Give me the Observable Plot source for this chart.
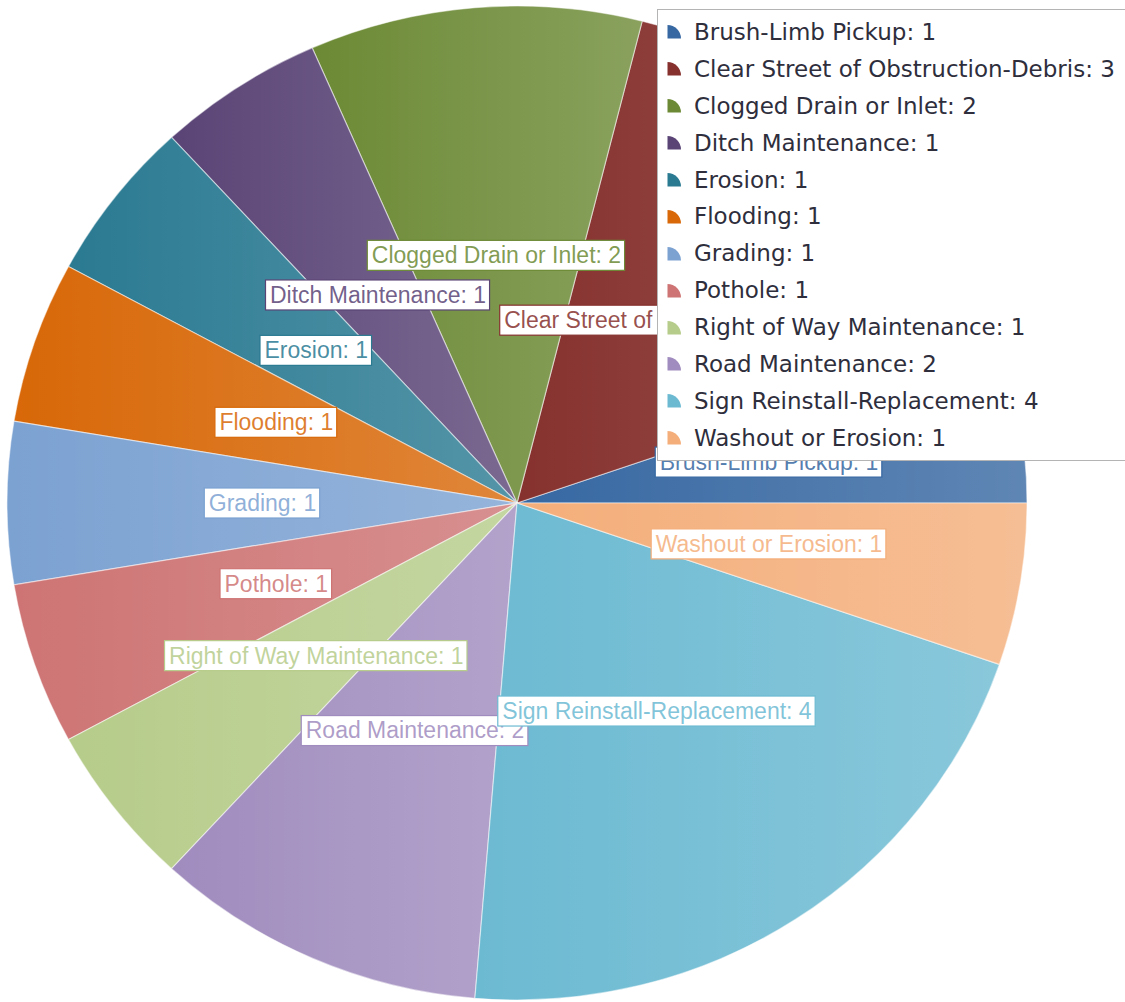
<!DOCTYPE html>
<html>
<head>
<meta charset="utf-8">
<script src="https://cdn.jsdelivr.net/npm/d3@7"></script>
<script src="https://cdn.jsdelivr.net/npm/@observablehq/plot@0.6"></script>
<style>
html, body { margin: 0; padding: 0; background: #fff; overflow: hidden; }
#wrap { position: relative; width: 1125px; height: 1002px; overflow: hidden; }
#chart svg { display: block; }
#legend {
  position: absolute; left: 657px; top: 9px; width: 500px; height: 452px;
  background: #fff; border: 1px solid #b4b4b4; box-sizing: border-box;
  padding-top: 3.5px; font-family: "DejaVu Sans"; font-size: 23px; color: #2e2e3c;
}
.item { height: 36.9px; display: flex; align-items: center; white-space: nowrap; }
.item svg { margin-left: 9px; margin-right: 12px; flex: none; }
</style>
</head>
<body>
<div id="wrap">
  <div id="chart"></div>
  <div id="legend"></div>
</div>
<script>
// ---- data ----
const categories = [
  "Brush-Limb Pickup",
  "Clear Street of Obstruction-Debris",
  "Clogged Drain or Inlet",
  "Ditch Maintenance",
  "Erosion",
  "Flooding",
  "Grading",
  "Pothole",
  "Right of Way Maintenance",
  "Road Maintenance",
  "Sign Reinstall-Replacement",
  "Washout or Erosion"
];
const counts = [1, 3, 2, 1, 1, 1, 1, 1, 1, 2, 4, 1];
const colors = [
  "#3768a2", "#86312e", "#6c8a35", "#5a4476", "#2a7a92", "#d86808",
  "#7ca2d2", "#ce7474", "#b6cc8a", "#a08cbe", "#6cbad2", "#f4ae7a"
];

// ---- derived table ----
const total = d3.sum(counts);
let acc = 0;
const slices = categories.map((category, i) => {
  const a0 = (acc / total) * 2 * Math.PI;
  acc += counts[i];
  const a1 = (acc / total) * 2 * Math.PI;
  const am = (a0 + a1) / 2;
  return {
    category, value: counts[i], a0, a1,
    mx: 0.5 * Math.cos(am), my: 0.5 * Math.sin(am),
    label: `${category}: ${counts[i]}`
  };
});

const labelFont = "Liberation Sans";
const labelSize = 23;
const canvas = document.createElement("canvas");
const ctx = canvas.getContext("2d");
ctx.font = `${labelSize}px "${labelFont}"`;

function colorOf(scales, c) {
  return scales.color ? scales.color(c) : colors[categories.indexOf(c)];
}

// pie slices drawn with the plot's x / y / color scales
function pieMark(index, scales) {
  const {x, y} = scales;
  const g = d3.create("svg:g");
  const grad = g.append("defs").append("linearGradient")
    .attr("id", "sheen").attr("x1", 0).attr("x2", 1).attr("y1", 0).attr("y2", 0);
  grad.append("stop").attr("offset", 0).attr("stop-color", "#fff").attr("stop-opacity", 0);
  grad.append("stop").attr("offset", 1).attr("stop-color", "#fff").attr("stop-opacity", 0.2);
  const cx = x(0), cy = y(0);
  const rx = x(1) - x(0), ry = y(0) - y(1);
  for (const s of slices) {
    const x0 = x(Math.cos(s.a0)), y0 = y(Math.sin(s.a0));
    const x1 = x(Math.cos(s.a1)), y1 = y(Math.sin(s.a1));
    const large = s.a1 - s.a0 > Math.PI ? 1 : 0;
    const d = `M${cx},${cy}L${x0},${y0}A${rx},${ry} 0 ${large} 0 ${x1},${y1}Z`;
    g.append("path").attr("d", d).attr("fill", colorOf(scales, s.category));
    g.append("path").attr("d", d).attr("fill", "url(#sheen)")
      .attr("stroke", "#fff").attr("stroke-opacity", 0.5).attr("stroke-width", 1.2)
      .attr("stroke-linejoin", "round");
  }
  return g.node();
}

// label box behind each label text
function boxMark(s) {
  return (index, scales) => {
    const {x, y} = scales;
    const w = ctx.measureText(s.label).width + 8;
    const h = 30;
    return d3.create("svg:rect")
      .attr("x", x(s.mx) - w / 2).attr("y", y(s.my) - h / 2)
      .attr("width", w).attr("height", h)
      .attr("fill", "#fff")
      .attr("stroke", colorOf(scales, s.category)).attr("stroke-width", 1.2)
      .node();
  };
}

const labelMarks = slices.flatMap(s => [
  boxMark(s),
  Plot.text([s], {
    x: "mx", y: "my", text: "label", fill: "category", fillOpacity: 0.85,
    fontSize: labelSize, fontFamily: labelFont, textAnchor: "middle"
  })
]);

const chart = Plot.plot({
  width: 1125,
  height: 1002,
  margin: 0,
  x: {domain: [-1, 1], range: [7, 1027], axis: null},
  y: {domain: [-1, 1], range: [1000, 6], axis: null},
  color: {type: "ordinal", domain: categories, range: colors},
  style: {background: "transparent", overflow: "visible"},
  marks: [
    pieMark,
    ...labelMarks
  ]
});
document.getElementById("chart").appendChild(chart);

// legend (HTML overlay)
const legend = d3.select("#legend");
categories.forEach((c, i) => {
  const item = legend.append("div").attr("class", "item");
  item.append("svg").attr("width", 15).attr("height", 15)
    .append("path").attr("d", "M0.5,14.5 L0.5,1 A13.5,13.5 0 0,1 14,14.5 Z")
    .attr("fill", colors[i]);
  item.append("span").text(`${c}: ${counts[i]}`);
});
</script>
</body>
</html>
